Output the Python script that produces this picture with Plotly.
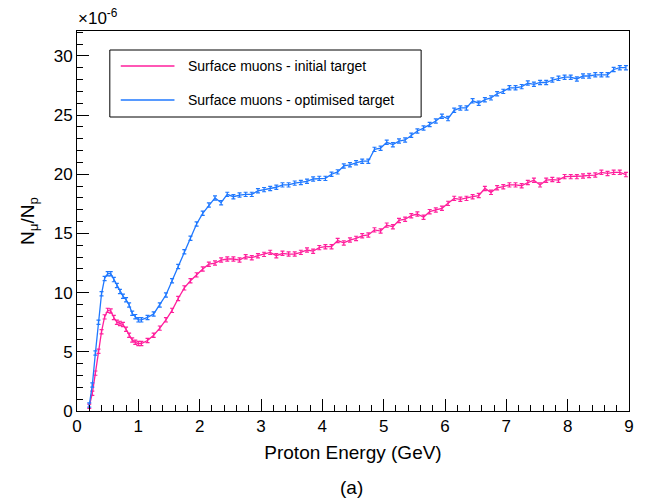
import plotly.graph_objects as go

# Proton energy (GeV)
energy_low = [0.20, 0.25, 0.30, 0.35, 0.40, 0.45, 0.50, 0.55, 0.60, 0.65, 0.70,
              0.75, 0.80, 0.85, 0.90, 0.95, 1.00, 1.05]
energy_high = [1.15, 1.25, 1.35, 1.45, 1.55, 1.65, 1.75, 1.85, 1.95, 2.05,
               2.15, 2.25, 2.35, 2.45, 2.55, 2.65, 2.75, 2.85, 2.95, 3.05,
               3.15, 3.25, 3.35, 3.45, 3.55, 3.65, 3.75, 3.85, 3.95, 4.05,
               4.15, 4.25, 4.35, 4.45, 4.55, 4.65, 4.75, 4.85, 4.95, 5.05,
               5.15, 5.25, 5.35, 5.45, 5.55, 5.65, 5.75, 5.85, 5.95, 6.05,
               6.15, 6.25, 6.35, 6.45, 6.55, 6.65, 6.75, 6.85, 6.95, 7.05,
               7.15, 7.25, 7.35, 7.45, 7.55, 7.65, 7.75, 7.85, 7.95, 8.05,
               8.15, 8.25, 8.35, 8.45, 8.55, 8.65, 8.75, 8.85, 8.95]
energy = energy_low + energy_high

# N_mu / N_p in units of 1e-6
initial_target = [0.4, 1.5, 3.2, 5.05, 6.7, 7.95, 8.5, 8.45, 7.9, 7.5, 7.4,
                  7.3, 6.9, 6.4, 6.0, 5.8, 5.7, 5.7,
                  5.95, 6.4, 7.0, 7.7, 8.5, 9.5, 10.4, 11.0, 11.5, 12.0,
                  12.4, 12.5, 12.75, 12.84, 12.84, 12.75, 13.03, 12.95, 13.12, 13.23,
                  13.4, 13.12, 13.32, 13.26, 13.26, 13.4, 13.6, 13.5, 13.8, 13.88,
                  13.88, 14.4, 14.2, 14.44, 14.58, 14.8, 14.87, 15.3, 15.2, 15.7,
                  15.57, 16.1, 16.2, 16.5, 16.64, 16.36, 16.84, 16.98, 17.12, 17.54,
                  17.96, 17.88, 17.96, 18.1, 18.2, 18.8, 18.47, 18.86, 18.95, 19.1,
                  19.1, 19.03, 19.3, 19.5, 19.1, 19.5, 19.55, 19.5, 19.8, 19.8,
                  19.8, 19.85, 19.9, 19.93, 20.16, 20.07, 20.16, 20.16, 19.97]
optimised_target = [0.5, 2.2, 4.9, 7.5, 9.9, 11.2, 11.6, 11.6, 11.1, 10.6, 10.1,
                    9.7, 9.4, 8.95, 8.25, 7.97, 7.7, 7.7,
                    7.9, 8.2, 8.95, 9.8, 11.0, 12.2, 13.45, 14.6, 15.8, 16.7,
                    17.4, 18.0, 17.6, 18.3, 18.1, 18.24, 18.3, 18.3, 18.6, 18.7,
                    18.8, 18.9, 19.1, 19.1, 19.25, 19.3, 19.4, 19.6, 19.65, 19.65,
                    20.0, 20.2, 20.7, 20.8, 20.97, 21.1, 21.1, 22.1, 22.2, 22.7,
                    22.5, 22.8, 22.9, 23.3, 23.65, 23.9, 24.2, 24.5, 24.9, 24.7,
                    25.4, 25.6, 25.6, 26.2, 26.0, 26.3, 26.45, 26.8, 27.0, 27.3,
                    27.3, 27.4, 27.7, 27.6, 27.75, 27.75, 27.96, 28.1, 28.2, 28.2,
                    28.05, 28.3, 28.3, 28.4, 28.4, 28.4, 28.85, 29.0, 29.0]

series_names = ["Surface muons - initial target", "Surface muons - optimised target"]
series_colors = ["#ff1f9c", "#1f78ff"]
stat_error = 0.18

x_ticks = [0, 1, 2, 3, 4, 5, 6, 7, 8, 9]
y_ticks = [0, 5, 10, 15, 20, 25, 30]

FONT = "Liberation Sans, Arial, Helvetica, sans-serif"

fig = go.Figure()
for name, vals, col in zip(series_names, [initial_target, optimised_target], series_colors):
    fig.add_trace(go.Scatter(
        x=energy, y=vals, mode="lines", name=name,
        line=dict(color=col, width=1.3),
        error_y=dict(type="constant", value=stat_error, color=col, thickness=1.2, width=2),
        showlegend=False,
    ))

# Plot area in pixels: left 77, right 632, top 31, bottom 411
W, H = 646, 498
L, R, T, B = 77, 14, 31, 87

def px(xp):
    return (xp - L) / (W - L - R)

def py(yp):
    return (H - B - yp) / (H - T - B)

shapes = []
annotations = []
# legend box
shapes.append(dict(type="rect", xref="paper", yref="paper",
                   x0=px(110), x1=px(423), y0=py(117), y1=py(50),
                   line=dict(color="black", width=1), fillcolor="white", layer="above"))
for i, (name, col) in enumerate(zip(series_names, series_colors)):
    yy = [66, 100][i]
    shapes.append(dict(type="line", xref="paper", yref="paper",
                       x0=px(121), x1=px(175), y0=py(yy), y1=py(yy),
                       line=dict(color=col, width=1.3), layer="above"))
    annotations.append(dict(xref="paper", yref="paper", x=px(187), y=py(yy),
                            xanchor="left", yanchor="middle", showarrow=False,
                            text=name, font=dict(family=FONT, size=14, color="black")))

annotations.append(dict(xref="paper", yref="paper", x=px(76), y=py(17),
                        xanchor="left", yanchor="middle", showarrow=False,
                        text="×10<sup>-6</sup>", font=dict(family=FONT, size=17, color="black")))
annotations.append(dict(xref="paper", yref="paper", x=px(353), y=py(487),
                        xanchor="center", yanchor="middle", showarrow=False,
                        text="(a)", font=dict(family=FONT, size=19, color="black")))

fig.update_layout(
    width=W, height=H,
    margin=dict(l=L, r=R, t=T, b=B),
    paper_bgcolor="white", plot_bgcolor="white",
    font=dict(family=FONT, color="black"),
    shapes=shapes, annotations=annotations,
    xaxis=dict(range=[0, 9], tickvals=x_ticks, ticktext=[str(v) for v in x_ticks],
               ticks="inside", ticklen=12, tickwidth=1, tickcolor="black",
               minor=dict(dtick=0.2, ticks="inside", ticklen=6, tickcolor="black", tickwidth=1),
               showgrid=False, zeroline=False,
               showline=True, linecolor="black", linewidth=1, mirror=True,
               tickfont=dict(size=17),
               title=dict(text="Proton Energy (GeV)", font=dict(size=19), standoff=10)),
    yaxis=dict(range=[0, 32.1], tickvals=y_ticks, ticktext=[str(v) for v in y_ticks],
               ticks="inside", ticklen=12, tickwidth=1, tickcolor="black",
               minor=dict(dtick=1, ticks="inside", ticklen=6, tickcolor="black", tickwidth=1),
               showgrid=False, zeroline=False,
               showline=True, linecolor="black", linewidth=1, mirror=True,
               tickfont=dict(size=17),
               title=dict(text="N<sub>μ</sub>/N<sub>p</sub>", font=dict(size=19), standoff=14)),
)

fig.write_html("out.html")
